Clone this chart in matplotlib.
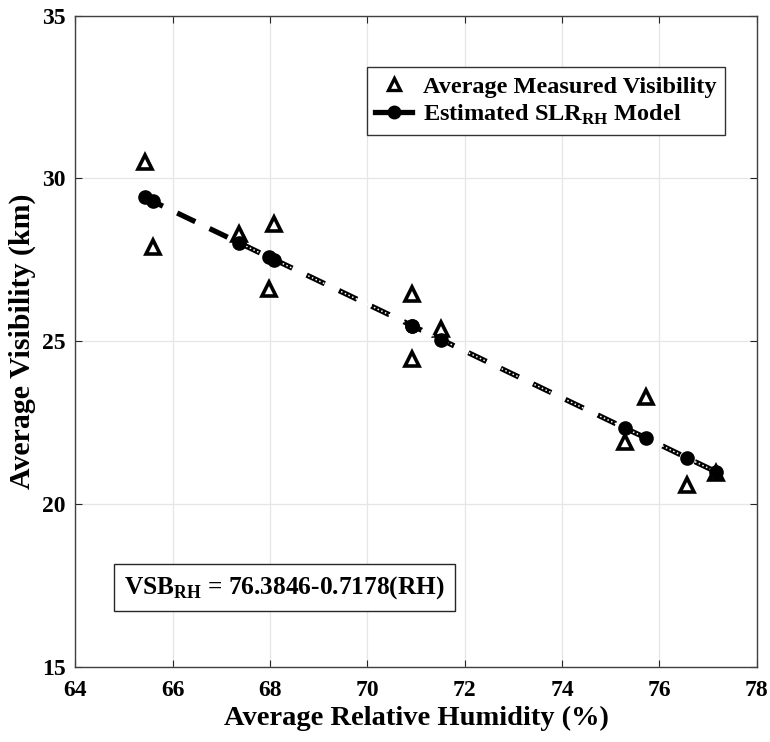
import matplotlib
matplotlib.use("Agg")
import matplotlib.pyplot as plt
from matplotlib.lines import Line2D

# values
rh = [65.43, 65.59, 67.36, 67.98, 68.09, 70.92, 70.92, 71.52, 75.30, 75.73, 76.57, 77.17]
vis_meas = [30.50, 27.90, 28.28, 26.60, 28.59, 26.45, 24.45, 25.37, 21.91, 23.30, 20.58, 20.95]
vis_model = [29.42, 29.30, 28.03, 27.58, 27.51, 25.48, 25.48, 25.05, 22.33, 22.03, 21.42, 20.99]
xticks = [64, 66, 68, 70, 72, 74, 76, 78]
yticks = [15, 20, 25, 30, 35]

SERIF = "Liberation Serif"
plt.rcParams["font.family"] = SERIF
plt.rcParams["font.weight"] = "bold"
plt.rcParams["mathtext.fontset"] = "custom"
plt.rcParams["mathtext.rm"] = "Liberation Serif:bold"
plt.rcParams["mathtext.bf"] = "Liberation Serif:bold"

fig = plt.figure(figsize=(7.7, 7.42), dpi=100)
ax = fig.add_axes([0.0978, 0.101, 0.885, 0.878])

ax.grid(True, color="0.9", lw=0.9)
ax.set_axisbelow(True)

ax.plot(rh, vis_meas, ls="none", marker="^", ms=9.5, mfc="white", mec="black",
        mew=2.6, zorder=3)

# thick dashed regression line, hollow-looking past x~67.4
ax.plot(rh, vis_model, color="black", lw=3.8, dashes=(3.8, 3.0), zorder=4)
ax.plot(rh[2:], vis_model[2:], color="white", lw=1.1, ls=":", zorder=5)
ax.plot(rh, vis_model, ls="none", marker="o", ms=9.5, mfc="black", mec="black", zorder=6)

ax.set_xlim(64, 78)
ax.set_ylim(15, 35)
ax.set_xticks(xticks)
ax.set_yticks(yticks)
ax.tick_params(direction="in", top=True, right=True, labelsize=17, length=5,
               color="0.15")
ax.tick_params(axis="x", pad=9)
ax.tick_params(axis="y", pad=7)
for s in ax.spines.values():
    s.set_color("0.25")
    s.set_linewidth(1.0)

ax.set_xlabel("Average Relative Humidity (%)", fontsize=20.5, fontweight="bold", labelpad=4)
ax.set_ylabel("Average Visibility (km)", fontsize=21.5, fontweight="bold", labelpad=4)

handles = [
    Line2D([], [], ls="none", marker="^", ms=8, mfc="white", mec="black", mew=2.4),
    Line2D([], [], color="black", lw=3.8, marker="o", ms=9, mfc="black",
           markevery=[1]),
]
labels = ["Average Measured Visibility", r"Estimated SLR$_{\mathbf{RH}}$ Model"]
leg = ax.legend(handles, labels, loc="upper left", bbox_to_anchor=(0.428, 0.921),
                borderaxespad=0, fancybox=False, framealpha=1, edgecolor="0.2",
                prop={"family": SERIF, "weight": "bold", "size": 17.5},
                handlelength=1.5, handletextpad=0.45, labelspacing=0.2,
                borderpad=0.35)
leg.get_frame().set_linewidth(1.0)

ax.text(0.0715, 0.122, r"VSB$_{\mathbf{RH}}$ = 76.3846-0.7178(RH)", transform=ax.transAxes,
        fontsize=18.3, fontweight="bold", family=SERIF, va="center", ha="left",
        bbox=dict(boxstyle="square,pad=0.4", fc="white", ec="0.15", lw=1.0))

fig.savefig("out.png", dpi=100)
